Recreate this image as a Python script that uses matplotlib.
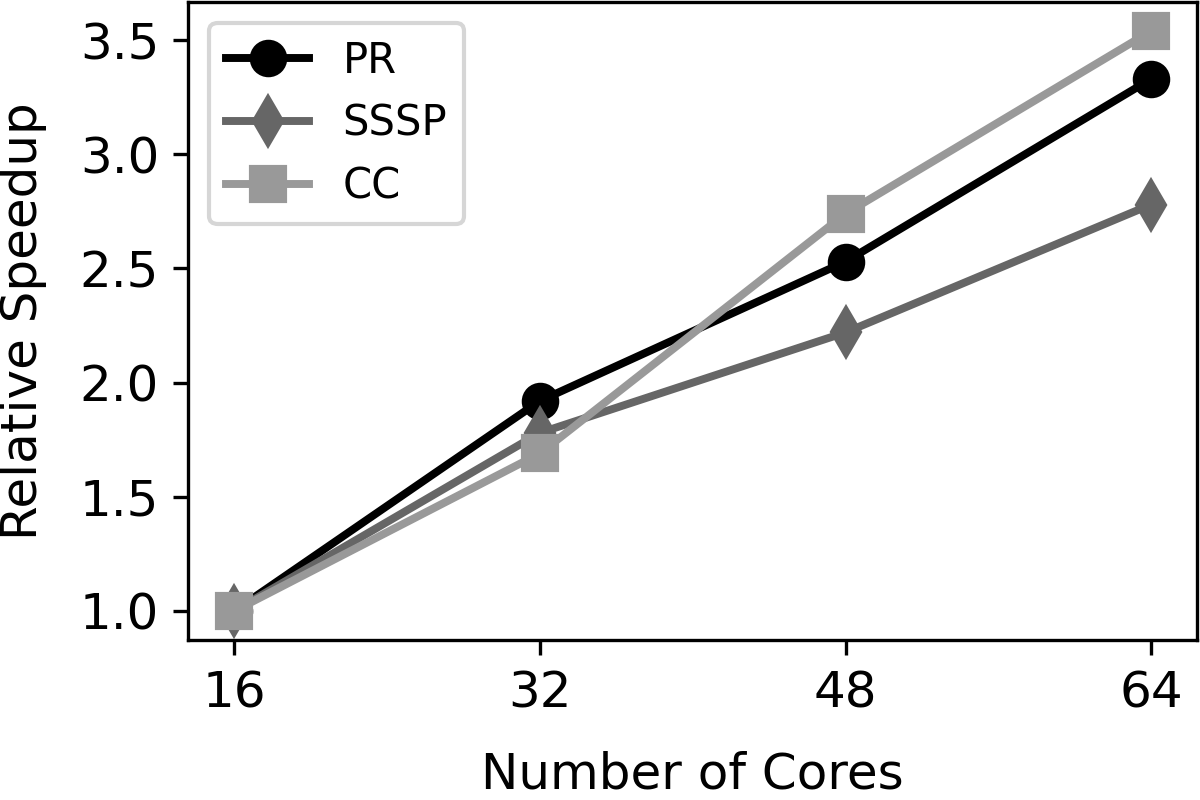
import numpy as np
import matplotlib.pyplot as plt

cores = [16, 32, 48, 64]
pr = [1.0, 1.92, 2.53, 3.33]
sssp = [1.0, 1.78, 2.22, 2.78]
cc = [1.0, 1.69, 2.74, 3.54]

series = [
    ('PR', pr, 'o', 'black'),
    ('SSSP', sssp, 'd', '#666666'),
    ('CC', cc, 's', '#999999'),
]

plt.rcParams['font.size'] = 12

fig, ax = plt.subplots(figsize=(4, 8 / 3), dpi=300)
for name, vals, m, c in series:
    ax.plot(cores, vals, marker=m, color=c, label=name, linewidth=1.9, markersize=8)

ax.set_xticks(cores)
ax.set_xlabel('Number of Cores', labelpad=8)
ax.set_ylabel('Relative Speedup', labelpad=8)
ax.legend(loc='upper left', fontsize=10)

fig.subplots_adjust(left=0.157, right=0.9975, top=0.9975, bottom=0.2)
fig.savefig('out.png')
